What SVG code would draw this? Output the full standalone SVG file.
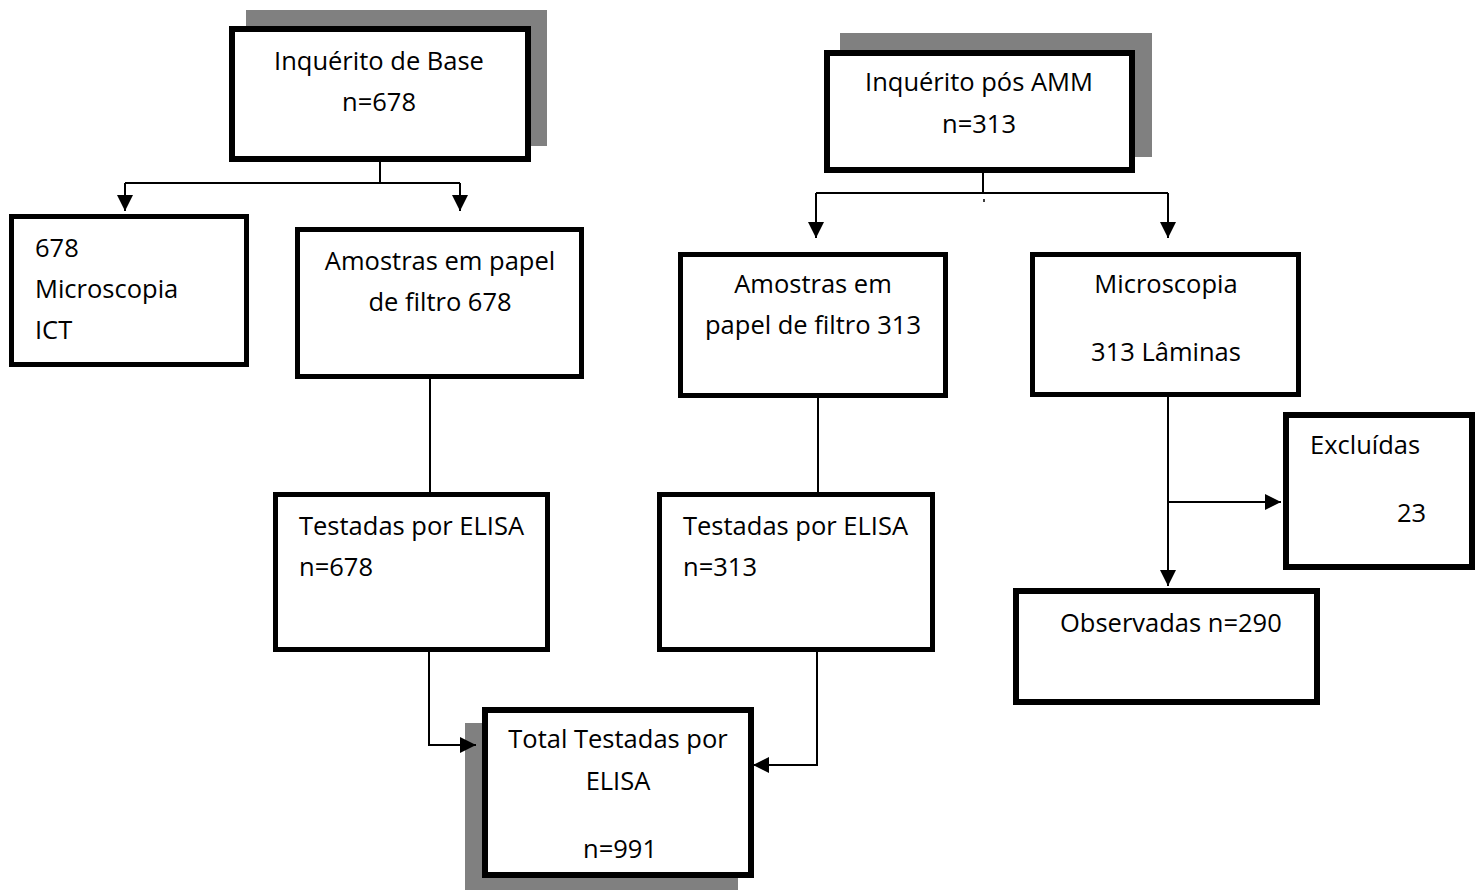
<svg xmlns="http://www.w3.org/2000/svg" width="1476" height="890" viewBox="0 0 1476 890">
<style>
.box{fill:#fff;stroke:#000;stroke-width:5}
.bx6{fill:#fff;stroke:#000;stroke-width:6}
.sh{fill:#808080}
.t{font-family:"Open Sans","Noto Sans","Liberation Sans",sans-serif;font-size:25.5px;fill:#000}
.c{text-anchor:middle}
.ln{fill:none;stroke:#000;stroke-width:2}
</style>
<defs>
<marker id="ah" markerUnits="userSpaceOnUse" markerWidth="18" markerHeight="18" refX="16" refY="8" orient="auto">
<path d="M0,0 L16,8 L0,16 z" fill="#000"/>
</marker>
</defs>
<rect width="1476" height="890" fill="#fff"/>

<g id="n-base">
<rect class="sh" x="246" y="10" width="301" height="136"/>
<rect class="bx6" x="232" y="29" width="296" height="130"/>
<text class="t c" x="379" y="70">Inquérito de Base</text>
<text class="t c" x="379" y="111">n=678</text>
</g>

<g id="n-micro-ict">
<rect class="box" x="11.5" y="216.5" width="235" height="148"/>
<text class="t" x="35" y="257">678</text>
<text class="t" x="35" y="298">Microscopia</text>
<text class="t" x="35" y="339">ICT</text>
</g>

<g id="n-amostras-678">
<rect class="box" x="297.5" y="229.5" width="284" height="147"/>
<text class="t c" x="440" y="270">Amostras em papel</text>
<text class="t c" x="440" y="311">de filtro 678</text>
</g>

<g id="n-elisa-678">
<rect class="box" x="275.5" y="494.5" width="272" height="155"/>
<text class="t" x="299" y="535">Testadas por ELISA</text>
<text class="t" x="299" y="576">n=678</text>
</g>

<g id="n-total">
<rect class="sh" x="465" y="723" width="273" height="170"/>
<rect class="bx6" x="485" y="710" width="266" height="165"/>
<text class="t c" x="618" y="748">Total Testadas por</text>
<text class="t c" x="618" y="790">ELISA</text>
<text class="t c" x="620" y="858">n=991</text>
</g>

<g id="n-pos-amm">
<rect class="sh" x="840" y="33" width="312" height="124"/>
<rect class="bx6" x="827" y="53" width="305" height="117"/>
<text class="t c" x="979" y="91">Inquérito pós AMM</text>
<text class="t c" x="979" y="133">n=313</text>
</g>

<g id="n-amostras-313">
<rect class="box" x="680.5" y="254.5" width="265" height="141"/>
<text class="t c" x="813" y="293">Amostras em</text>
<text class="t c" x="813" y="334">papel de filtro 313</text>
</g>

<g id="n-microscopia-313">
<rect class="box" x="1032.5" y="254.5" width="266" height="140"/>
<text class="t c" x="1166" y="293">Microscopia</text>
<text class="t c" x="1166" y="361">313 Lâminas</text>
</g>

<g id="n-elisa-313">
<rect class="box" x="659.5" y="494.5" width="273" height="155"/>
<text class="t" x="683" y="535">Testadas por ELISA</text>
<text class="t" x="683" y="576">n=313</text>
</g>

<g id="n-excluidas">
<rect class="bx6" x="1286" y="415" width="186" height="152"/>
<text class="t" x="1310" y="454">Excluídas</text>
<text class="t" x="1397" y="522">23</text>
</g>

<g id="n-observadas">
<rect class="bx6" x="1016" y="591" width="301" height="111"/>
<text class="t" x="1060" y="632">Observadas n=290</text>
</g>

<g id="connectors">
<path class="ln" d="M380 162 V183"/>
<path class="ln" d="M125 183 H460"/>
<path class="ln" d="M125 183 V211" marker-end="url(#ah)"/>
<path class="ln" d="M460 183 V211" marker-end="url(#ah)"/>
<path class="ln" d="M430 379 V492"/>
<path class="ln" d="M429 652 V745 H476" marker-end="url(#ah)"/>
<path class="ln" d="M818 398 V492"/>
<path class="ln" d="M817 652 V765 H753" marker-end="url(#ah)"/>
<path class="ln" d="M983 173 V193"/>
<path class="ln" d="M816 193 H1168"/>
<path class="ln" d="M816 193 V238" marker-end="url(#ah)"/>
<path class="ln" d="M1168 193 V238" marker-end="url(#ah)"/>
<path d="M984 199 V202" stroke="#000" stroke-width="1.5"/>
<path class="ln" d="M1168 397 V586" marker-end="url(#ah)"/>
<path class="ln" d="M1168 502 H1281" marker-end="url(#ah)"/>
</g>
</svg>
